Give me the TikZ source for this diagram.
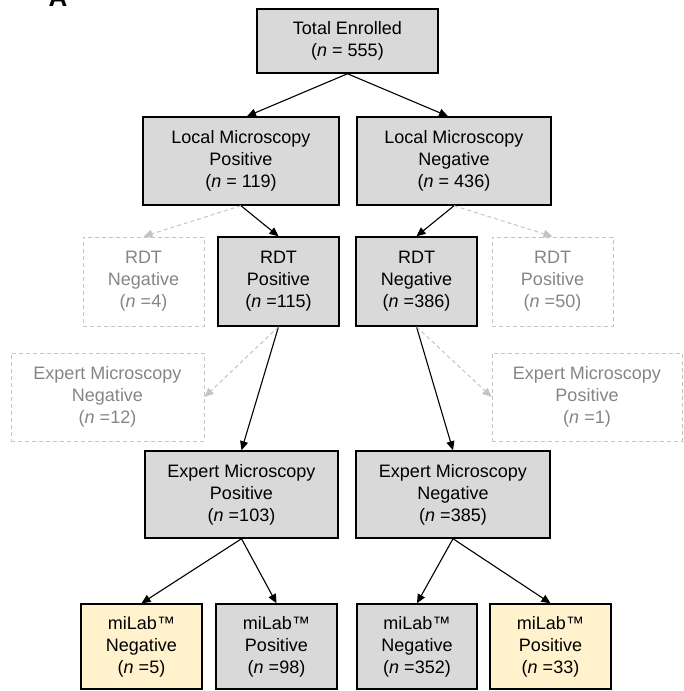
\documentclass[tikz,border=0pt]{standalone}
\usepackage{fontspec}
\setmainfont{Liberation Sans}
\usetikzlibrary{arrows.meta}
\definecolor{boxgray}{HTML}{D9D9D9}
\definecolor{boxyellow}{HTML}{FFF2CC}
\definecolor{dashgray}{HTML}{C4C4C4}
\definecolor{txtgray}{HTML}{858585}
\tikzset{
  base/.style={rectangle, inner sep=0pt, align=center,
    font=\fontsize{18}{22}\selectfont},
  solidbox/.style={base, draw=black, line width=1.5pt, fill=boxgray},
  yellowbox/.style={base, draw=black, line width=1.5pt, fill=boxyellow},
  ghostbox/.style={base, draw=dashgray, line width=1pt, dash pattern=on 4pt off 3pt, text=txtgray},
  conn/.style={line width=1.1pt, -{Triangle[length=9pt,width=8pt]}},
  ghostconn/.style={draw=dashgray, line width=1pt, dash pattern=on 4pt off 3pt,
    -{Triangle[length=9pt,width=8pt,fill=dashgray]}},
}
\begin{document}
\begin{tikzpicture}[x=1pt,y=-1pt]
\useasboundingbox (0,0) rectangle (683,691);

\node[anchor=base, font=\fontsize{26}{30}\selectfont\bfseries] (lab) at (58,6) {A};

\node[solidbox, minimum width=181pt, minimum height=64pt] (tot) at (347.5,41) {Total Enrolled\\(\textit{n} = 555)};

\node[solidbox, minimum width=196pt, minimum height=88pt] (lp) at (241,161) {Local Microscopy\\Positive\\(\textit{n} = 119)};
\node[solidbox, minimum width=194pt, minimum height=88pt] (ln) at (454,161) {Local Microscopy\\Negative\\(\textit{n} = 436)};

\node[ghostbox, minimum width=121pt, minimum height=89pt] (rnd) at (143.5,281.5) {RDT\\Negative\\(\textit{n} =4)};
\node[solidbox, minimum width=121pt, minimum height=89pt] (rp) at (278.5,281.5) {RDT\\Positive\\(\textit{n} =115)};
\node[solidbox, minimum width=121pt, minimum height=89pt] (rn) at (416.5,281.5) {RDT\\Negative\\(\textit{n} =386)};
\node[ghostbox, minimum width=121pt, minimum height=89pt] (rpd) at (552.5,281.5) {RDT\\Positive\\(\textit{n} =50)};

\node[ghostbox, minimum width=193pt, minimum height=88pt] (end) at (107.5,397) {Expert Microscopy\\Negative\\(\textit{n} =12)};
\node[ghostbox, minimum width=190pt, minimum height=88pt] (epd) at (587,397) {Expert Microscopy\\Positive\\(\textit{n} =1)};

\node[solidbox, minimum width=193pt, minimum height=87pt] (emp) at (241.5,494.5) {Expert Microscopy\\Positive\\(\textit{n} =103)};
\node[solidbox, minimum width=194pt, minimum height=87pt] (emn) at (453,494.5) {Expert Microscopy\\Negative\\(\textit{n} =385)};

\node[yellowbox, minimum width=121pt, minimum height=85pt] (m1) at (141.5,646.5) {miLab™\\Negative\\(\textit{n} =5)};
\node[solidbox, minimum width=121pt, minimum height=85pt] (m2) at (276.5,646.5) {miLab™\\Positive\\(\textit{n} =98)};
\node[solidbox, minimum width=120pt, minimum height=85pt] (m3) at (417,646.5) {miLab™\\Negative\\(\textit{n} =352)};
\node[yellowbox, minimum width=121pt, minimum height=85pt] (m4) at (550.5,646.5) {miLab™\\Positive\\(\textit{n} =33)};

\draw[conn] (tot.south) -- ([xshift=6pt]lp.north);
\draw[conn] (tot.south) -- ([xshift=-6pt]ln.north);

\draw[conn] (lp.south) -- (rp.north);
\draw[conn] (ln.south) -- (rn.north);
\draw[ghostconn] (lp.south) -- (rnd.north);
\draw[ghostconn] (ln.south) -- (rpd.north);

\draw[conn] (rp.south) -- (emp.north);
\draw[conn] (rn.south) -- (emn.north);
\draw[ghostconn] (rp.south) -- (end.east);
\draw[ghostconn] (rn.south) -- (epd.west);

\draw[conn] (emp.south) -- (m1.north);
\draw[conn] (emp.south) -- (m2.north);
\draw[conn] (emn.south) -- (m3.north);
\draw[conn] (emn.south) -- (m4.north);
\end{tikzpicture}
\end{document}
